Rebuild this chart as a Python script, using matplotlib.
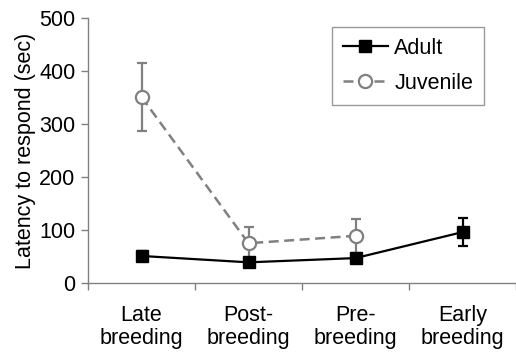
import numpy as np
import matplotlib
matplotlib.use("Agg")
import matplotlib.pyplot as plt
from matplotlib.lines import Line2D

categories = ["Late\nbreeding", "Post-\nbreeding", "Pre-\nbreeding", "Early\nbreeding"]
adult = [51, 39, 47, 96]
adult_err = [10, 8, 8, 26]
juvenile = [351, 75, 89, np.nan]
juvenile_err = [64, 30, 32, np.nan]
yticks = [0, 100, 200, 300, 400, 500]

plt.rcParams['font.family'] = ['Liberation Sans', 'DejaVu Sans']
fs = 15.5
fig = plt.figure(figsize=(5.16, 3.55), dpi=100)
ax = fig.add_axes([88/516, 72/355, 1 - 88/516, 265/355])

x = np.arange(len(categories))
grey = '#808080'
jdash = (0, (4, 2.2))
ax.errorbar(x, juvenile, yerr=juvenile_err, color=grey, ls=jdash, lw=1.8,
            marker='o', ms=9.5, mfc='white', mec=grey, mew=1.6,
            capsize=3.5, elinewidth=1.6, capthick=1.6, zorder=2)
ax.errorbar(x, adult, yerr=adult_err, color='black', ls='-', lw=1.6,
            marker='s', ms=8.5, mfc='black', mec='black',
            capsize=3.5, elinewidth=1.6, capthick=1.6, zorder=3)

ax.set_xlim(-0.5, 3.47)
ax.set_ylim(0, 500)
ax.set_yticks(yticks)
ax.set_xticks(np.arange(-0.5, 4, 1), minor=False)
ax.set_xticklabels([])
ax.set_xticks(x, minor=True)
ax.set_xticklabels(categories, minor=True, fontsize=fs, linespacing=1.1)
ax.tick_params(axis='x', which='minor', length=0, pad=16)
ax.tick_params(axis='x', which='major', length=5, color=grey, width=1)
ax.tick_params(axis='y', length=5, color=grey, width=1, labelsize=fs, pad=4)
for s in ['top', 'right']:
    ax.spines[s].set_visible(False)
for s in ['left', 'bottom']:
    ax.spines[s].set_color(grey)
    ax.spines[s].set_linewidth(1)
ax.set_ylabel('Latency to respond (sec)', fontsize=fs, labelpad=2)

handles = [
    Line2D([], [], color='black', lw=1.6, marker='s', ms=8.5, mfc='black', mec='black'),
    Line2D([], [], color=grey, ls=jdash, lw=1.8, marker='o', ms=9.5, mfc='white', mec=grey, mew=1.6),
]
leg = ax.legend(handles, ['Adult', 'Juvenile'], loc='upper right', bbox_to_anchor=(0.925, 0.966),
                borderaxespad=0, fontsize=fs, frameon=True, fancybox=False, edgecolor=grey,
                handlelength=2.1, borderpad=0.5, labelspacing=0.65, handletextpad=0.3)
leg.get_frame().set_linewidth(1)

fig.savefig('out.png', dpi=100)
